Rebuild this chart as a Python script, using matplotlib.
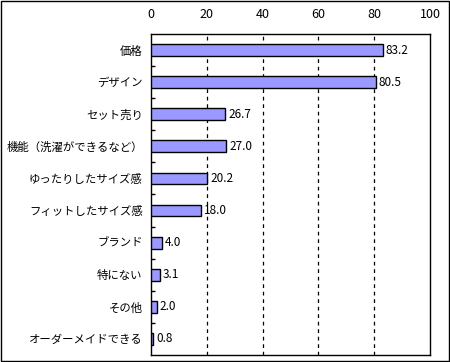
import matplotlib
matplotlib.use("Agg")
import matplotlib.pyplot as plt
from matplotlib.patches import Rectangle

plt.rcParams['font.family'] = ['Noto Sans CJK JP', 'DejaVu Sans']

# data
categories = ["価格", "デザイン", "セット売り", "機能（洗濯ができるなど）",
              "ゆったりしたサイズ感", "フィットしたサイズ感", "ブランド",
              "特にない", "その他", "オーダーメイドできる"]
values = [83.2, 80.5, 26.7, 27.0, 20.2, 18.0, 4.0, 3.1, 2.0, 0.8]
xticks = [0, 20, 40, 60, 80, 100]

fig = plt.figure(figsize=(4.5, 3.62), dpi=100)
ax = fig.add_axes([151 / 450, 1 - 355 / 362, 279 / 450, 321 / 362])

pos = list(range(len(categories)))
ax.barh(pos, values, height=0.37, color="#9999FF", edgecolor="black", linewidth=1, zorder=3)
for p, v in zip(pos, values):
    ax.text(v + 1.0, p, f"{v:.1f}", va="center", ha="left", fontsize=8.5, zorder=4)

ax.set_xlim(0, 100)
ax.set_ylim(len(categories) - 0.5, -0.5)
ax.set_xticks(xticks)
ax.xaxis.tick_top()
ax.tick_params(axis="x", length=0, pad=9, labelsize=9)
ax.set_yticks(pos)
ax.set_yticklabels(categories, fontsize=8.2)
ax.tick_params(axis="y", which="major", length=0, pad=6)
ax.set_yticks([p + 0.5 for p in pos[:-1]], minor=True)
ax.tick_params(axis="y", which="minor", length=3, direction="in", width=1)
for x in xticks[1:-1]:
    ax.axvline(x, color="black", linestyle=(0, (3, 3)), linewidth=0.9, zorder=1)
for s in ax.spines.values():
    s.set_linewidth(1)

fig.patches.append(Rectangle((0.002, 0.003), 0.995, 0.994, transform=fig.transFigure,
                             fill=False, edgecolor="black", linewidth=1))

fig.savefig("out.png", dpi=100)
